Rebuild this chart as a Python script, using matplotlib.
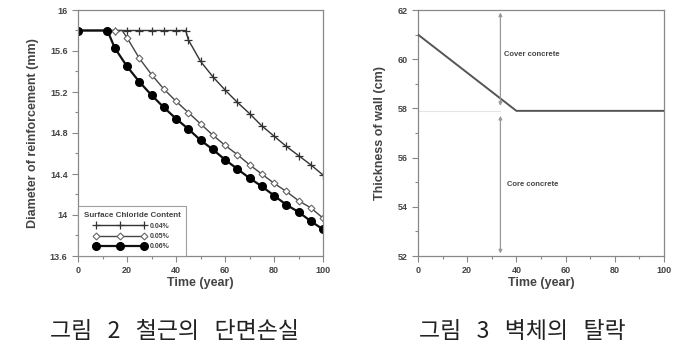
import matplotlib
matplotlib.use("Agg")
import matplotlib.pyplot as plt
from matplotlib.ticker import MultipleLocator

plt.rcParams["font.family"] = ["Liberation Sans", "DejaVu Sans"]

# --- Figure 2: diameter of reinforcement vs time ---
years_004 = [0, 5, 10, 12, 15, 20, 25, 30, 35, 40, 44, 45, 50, 55, 60, 65, 70, 75, 80, 85, 90, 95, 100]
diam_004 = [15.8, 15.8, 15.8, 15.8, 15.8, 15.8, 15.8, 15.8, 15.8, 15.8, 15.8, 15.71, 15.50, 15.35, 15.22,
            15.10, 14.99, 14.87, 14.77, 14.67, 14.58, 14.49, 14.39]
marks_004 = [3, 4, 5, 6, 7, 8, 9, 10, 11, 12, 13, 14, 15, 16, 17, 18, 19, 20, 21, 22]

years_005 = [0, 5, 10, 15, 18, 20, 25, 30, 35, 40, 45, 50, 55, 60, 65, 70, 75, 80, 85, 90, 95, 100]
diam_005 = [15.8, 15.8, 15.8, 15.8, 15.8, 15.73, 15.53, 15.37, 15.23, 15.11, 15.00, 14.89, 14.78, 14.68,
            14.59, 14.49, 14.40, 14.31, 14.23, 14.14, 14.07, 13.97]
marks_005 = [0, 3, 5, 6, 7, 8, 9, 10, 11, 12, 13, 14, 15, 16, 17, 18, 19, 20, 21]

years_006 = [0, 12, 15, 20, 25, 30, 35, 40, 45, 50, 55, 60, 65, 70, 75, 80, 85, 90, 95, 100]
diam_006 = [15.8, 15.8, 15.63, 15.45, 15.30, 15.17, 15.05, 14.94, 14.84, 14.73, 14.64, 14.54, 14.45,
            14.36, 14.28, 14.19, 14.10, 14.03, 13.94, 13.86]

labels = ["0.04%", "0.05%", "0.06%"]

# --- Figure 3: wall thickness vs time ---
wall_years = [0, 40, 100]
wall_thick = [61.0, 57.9, 57.9]
boundary_year = 33.5
cover_range = (58.1, 61.9)
core_range = (52.1, 57.7)

captions = ["그림   2   철근의   단면손실", "그림   3   벽체의   탈락"]

axis_gray = "#888888"
text_gray = "#444444"

fig = plt.figure(figsize=(6.75, 3.46), dpi=100)
ax1 = fig.add_axes([78 / 675, 1 - 256 / 346, 245 / 675, 246 / 346])
ax2 = fig.add_axes([418 / 675, 1 - 256 / 346, 246 / 675, 246 / 346])


def style_axes(ax):
    for sp in ax.spines.values():
        sp.set_color(axis_gray)
        sp.set_linewidth(0.9)
    ax.tick_params(which="both", direction="out", colors=axis_gray, labelcolor=text_gray,
                   labelsize=6.5, width=0.8)
    ax.tick_params(which="major", length=4)
    ax.tick_params(which="minor", length=2.5)
    for lab in ax.get_xticklabels() + ax.get_yticklabels():
        lab.set_fontweight("bold")


ax1.plot(years_004, diam_004, color="#333333", lw=1.0, marker="+", markersize=6,
         markeredgewidth=0.9, markevery=marks_004, label=labels[0])
ax1.plot(years_005, diam_005, color="#444444", lw=1.0, marker="D", markersize=3.5,
         markerfacecolor="white", markeredgecolor="#666666", markeredgewidth=0.8,
         markevery=marks_005, label=labels[1])
ax1.plot(years_006, diam_006, color="#111111", lw=1.6, marker="o", markersize=5.5,
         markerfacecolor="black", markeredgecolor="black", label=labels[2])

ax1.set_xlim(0, 100)
ax1.set_ylim(13.6, 16)
ax1.xaxis.set_major_locator(MultipleLocator(20))
ax1.xaxis.set_minor_locator(MultipleLocator(10))
ax1.yaxis.set_minor_locator(MultipleLocator(0.2))
ax1.set_yticks([13.6, 14, 14.4, 14.8, 15.2, 15.6, 16])
ax1.set_yticklabels(["13.6", "14", "14.4", "14.8", "15.2", "15.6", "16"])
style_axes(ax1)
ax1.set_xlabel("Time (year)", fontsize=9, fontweight="bold", color=text_gray, labelpad=1)
ax1.set_ylabel("Diameter of reinforcement (mm)", fontsize=9, fontweight="bold", color=text_gray, labelpad=8)

leg = ax1.legend(loc="lower left", numpoints=3, fontsize=5, title="Surface Chloride Content",
                 title_fontsize=5.8, fancybox=False, borderaxespad=0, handlelength=7.5,
                 borderpad=0.8, labelspacing=0.5, handletextpad=0.6)
leg.get_frame().set_edgecolor(axis_gray)
leg.get_frame().set_linewidth(0.8)
leg.get_title().set_fontweight("bold")
leg.get_title().set_color(text_gray)
for t in leg.get_texts():
    t.set_color(text_gray)
    t.set_fontweight("bold")

ax2.plot([0, boundary_year], [wall_thick[-1], wall_thick[-1]], color="#e4e4e4", lw=0.8, zorder=1)
ax2.plot(wall_years, wall_thick, color="#555555", lw=1.4, zorder=3)
for lo, hi in (cover_range, core_range):
    ax2.annotate("", xy=(boundary_year, hi), xytext=(boundary_year, lo),
                 arrowprops=dict(arrowstyle="<|-|>", color="#999999", lw=0.9, mutation_scale=5,
                                 shrinkA=0, shrinkB=0))
ax2.text(35, 60.2, "Cover concrete", fontsize=5.5, fontweight="bold", color=text_gray, va="center")
ax2.text(36, 54.9, "Core concrete", fontsize=5.5, fontweight="bold", color=text_gray, va="center")

ax2.set_xlim(0, 100)
ax2.set_ylim(52, 62)
ax2.xaxis.set_major_locator(MultipleLocator(20))
ax2.xaxis.set_minor_locator(MultipleLocator(10))
ax2.yaxis.set_major_locator(MultipleLocator(2))
ax2.yaxis.set_minor_locator(MultipleLocator(1))
style_axes(ax2)
ax2.set_xlabel("Time (year)", fontsize=9, fontweight="bold", color=text_gray, labelpad=1)
ax2.set_ylabel("Thickness of wall (cm)", fontsize=9, fontweight="bold", color=text_gray, labelpad=8)

for cx, cap in zip([174.5, 522], captions):
    fig.text(cx / 675, 1 - 332 / 346, cap, fontsize=16.5, ha="center", va="center",
             color="#222222", family=["Noto Sans CJK KR", "DejaVu Sans"])

fig.savefig("out.png", dpi=100)
